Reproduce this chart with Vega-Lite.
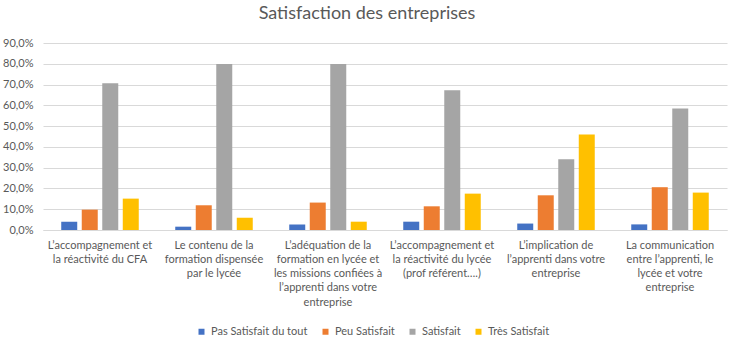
{
  "$schema": "https://vega.github.io/schema/vega-lite/v6.json",
  "width": 684,
  "height": 187,
  "autosize": {"type": "none"},
  "padding": {"left": 43, "top": 43, "right": 13, "bottom": 117},
  "background": "white",
  "title": {
    "text": "Satisfaction des entreprises",
    "anchor": "middle",
    "frame": "group",
    "dx": -18,
    "offset": 14,
    "fontSize": 18,
    "fontWeight": "normal",
    "font": "Lato",
    "color": "#595959"
  },
  "data": {
    "values": [
      {"question": "L’accompagnement et\nla réactivité du CFA", "niveau": "Pas Satisfait du tout", "valeur": 0.040},
      {"question": "L’accompagnement et\nla réactivité du CFA", "niveau": "Peu Satisfait", "valeur": 0.098},
      {"question": "L’accompagnement et\nla réactivité du CFA", "niveau": "Satisfait", "valeur": 0.706},
      {"question": "L’accompagnement et\nla réactivité du CFA", "niveau": "Très Satisfait", "valeur": 0.151},
      {"question": "Le contenu de la\nformation dispensée\npar le lycée", "niveau": "Pas Satisfait du tout", "valeur": 0.016},
      {"question": "Le contenu de la\nformation dispensée\npar le lycée", "niveau": "Peu Satisfait", "valeur": 0.119},
      {"question": "Le contenu de la\nformation dispensée\npar le lycée", "niveau": "Satisfait", "valeur": 0.799},
      {"question": "Le contenu de la\nformation dispensée\npar le lycée", "niveau": "Très Satisfait", "valeur": 0.059},
      {"question": "L’adéquation de la\nformation en lycée et\nles missions confiées à\nl’apprenti dans votre\nentreprise", "niveau": "Pas Satisfait du tout", "valeur": 0.027},
      {"question": "L’adéquation de la\nformation en lycée et\nles missions confiées à\nl’apprenti dans votre\nentreprise", "niveau": "Peu Satisfait", "valeur": 0.132},
      {"question": "L’adéquation de la\nformation en lycée et\nles missions confiées à\nl’apprenti dans votre\nentreprise", "niveau": "Satisfait", "valeur": 0.799},
      {"question": "L’adéquation de la\nformation en lycée et\nles missions confiées à\nl’apprenti dans votre\nentreprise", "niveau": "Très Satisfait", "valeur": 0.040},
      {"question": "L’accompagnement et\nla réactivité du lycée\n(prof référent….)", "niveau": "Pas Satisfait du tout", "valeur": 0.040},
      {"question": "L’accompagnement et\nla réactivité du lycée\n(prof référent….)", "niveau": "Peu Satisfait", "valeur": 0.114},
      {"question": "L’accompagnement et\nla réactivité du lycée\n(prof référent….)", "niveau": "Satisfait", "valeur": 0.672},
      {"question": "L’accompagnement et\nla réactivité du lycée\n(prof référent….)", "niveau": "Très Satisfait", "valeur": 0.175},
      {"question": "L’implication de\nl’apprenti dans votre\nentreprise", "niveau": "Pas Satisfait du tout", "valeur": 0.031},
      {"question": "L’implication de\nl’apprenti dans votre\nentreprise", "niveau": "Peu Satisfait", "valeur": 0.167},
      {"question": "L’implication de\nl’apprenti dans votre\nentreprise", "niveau": "Satisfait", "valeur": 0.341},
      {"question": "L’implication de\nl’apprenti dans votre\nentreprise", "niveau": "Très Satisfait", "valeur": 0.460},
      {"question": "La communication\nentre l’apprenti, le\nlycée et votre\nentreprise", "niveau": "Pas Satisfait du tout", "valeur": 0.027},
      {"question": "La communication\nentre l’apprenti, le\nlycée et votre\nentreprise", "niveau": "Peu Satisfait", "valeur": 0.206},
      {"question": "La communication\nentre l’apprenti, le\nlycée et votre\nentreprise", "niveau": "Satisfait", "valeur": 0.585},
      {"question": "La communication\nentre l’apprenti, le\nlycée et votre\nentreprise", "niveau": "Très Satisfait", "valeur": 0.180}
    ]
  },
  "mark": {"type": "bar"},
  "encoding": {
    "x": {
      "field": "question",
      "type": "nominal",
      "sort": null,
      "scale": {"paddingInner": 0.32, "paddingOuter": 0.16},
      "axis": {
        "title": null,
        "labelAngle": 0,
        "labelExpr": "split(datum.label, '\\n')",
        "labelFont": "Lato",
        "labelFontSize": 11,
        "labelColor": "#595959",
        "labelLineHeight": 14.3,
        "labelPadding": 9,
        "labelBaseline": "top",
        "ticks": false,
        "domain": true,
        "domainColor": "#D9D9D9",
        "labelLimit": 200
      }
    },
    "xOffset": {
      "field": "niveau",
      "type": "nominal",
      "sort": ["Pas Satisfait du tout", "Peu Satisfait", "Satisfait", "Très Satisfait"],
      "scale": {"paddingInner": 0.22, "paddingOuter": 0}
    },
    "y": {
      "field": "valeur",
      "type": "quantitative",
      "scale": {"domain": [0, 0.9], "nice": false},
      "axis": {
        "title": null,
        "values": [0, 0.1, 0.2, 0.3, 0.4, 0.5, 0.6, 0.7, 0.8, 0.9],
        "labelExpr": "replace(format(datum.value, '.1%'), '.', ',')",
        "labelFont": "Lato",
        "labelFontSize": 11,
        "labelColor": "#595959",
        "labelPadding": 10,
        "ticks": false,
        "domain": false,
        "gridColor": "#D9D9D9",
        "gridWidth": 1
      }
    },
    "color": {
      "field": "niveau",
      "type": "nominal",
      "sort": ["Pas Satisfait du tout", "Peu Satisfait", "Satisfait", "Très Satisfait"],
      "scale": {
        "domain": ["Pas Satisfait du tout", "Peu Satisfait", "Satisfait", "Très Satisfait"],
        "range": ["#4472C4", "#ED7D31", "#A5A5A5", "#FFC000"]
      },
      "legend": {
        "title": null,
        "orient": "none",
        "direction": "horizontal",
        "legendX": 153,
        "legendY": 283,
        "symbolType": "square",
        "symbolSize": 36,
        "symbolStrokeWidth": 0,
        "labelFont": "Lato",
        "labelFontSize": 11,
        "labelColor": "#595959",
        "labelOffset": 4,
        "columnPadding": 12
      }
    }
  },
  "config": {
    "view": {"stroke": null}
  }
}
